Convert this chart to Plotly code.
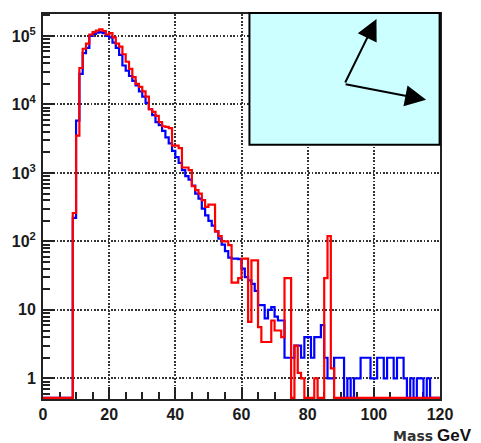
import numpy as np
import plotly.graph_objects as go

# 1 GeV bins from 0 to 120 GeV
bin_edges = list(range(0, 121))

# Blue histogram: counts per bin (bins 0..119)
blue_counts = [
    0, 0, 0, 0, 0, 0, 0, 0, 0, 220,
    5800, 28000, 56000, 67000, 100000, 107000, 112000, 114000, 110000, 100000,
    95000, 80000, 67000, 53000, 37000, 31000, 26000, 22000, 19000, 15500,
    13000, 10500, 8500, 7000, 5500, 5000, 4100, 3300, 2700, 2100,
    1700, 1400, 1100, 900, 800, 650, 500, 420, 300, 240,
    200, 170, 140, 110, 90, 72, 58, 56, 56, 55,
    40, 30, 27, 24, 19, 11.7, 11.7, 7.5, 10, 11,
    8, 7, 7, 2, 2, 2, 3, 3, 2, 4,
    4, 2, 4, 4, 6, 2, 1, 1, 2, 2,
    2, 0, 1, 0, 1, 1, 2, 2, 2, 1,
    1, 2, 2, 1, 2, 2, 1, 2, 2, 1,
    0, 1, 0, 1, 1, 0, 1, 0, 0, 0,
]

# Red histogram: counts per bin (bins 0..119)
red_counts = [
    0, 0, 0, 0, 0, 0, 0, 0, 0, 260,
    3500, 34000, 65000, 77000, 105000, 114000, 120000, 125000, 118000, 105000,
    110000, 95000, 77000, 70000, 54000, 42000, 33000, 25000, 20000, 18000,
    15500, 13000, 8500, 7800, 6800, 5500, 4800, 4700, 4500, 2500,
    2500, 2300, 1200, 1200, 1100, 640, 560, 500, 400, 320,
    345, 345, 140, 120, 100, 100, 88, 25, 25, 29,
    56, 56, 6.7, 53, 53, 5.6, 3.4, 3.4, 3.4, 7,
    5, 5, 4, 29, 29, 0, 3, 1.2, 1, 0,
    0, 0, 1, 0, 0, 29, 120, 1.4, 0, 0,
    0, 0, 0, 0, 0, 0, 0, 0, 0, 0,
    0, 0, 0, 0, 0, 0, 0, 0, 0, 0,
    0, 0, 0, 0, 0, 0, 0, 0, 0, 0,
]

y_tick_vals = [1, 10, 100, 1000, 10000, 100000]
y_tick_text = ["1", "10", "10<sup>2</sup>", "10<sup>3</sup>", "10<sup>4</sup>", "10<sup>5</sup>"]
x_tick_vals = [0, 20, 40, 60, 80, 100, 120]
x_tick_text = ["0", "20", "40", "60", "80", "100", "120"]

Y_MIN, Y_MAX = 0.5, 2.09e5
# empty bins are drawn along the bottom of the frame, as on a log plot
floor = Y_MIN * 10 ** 0.016


def step_y(counts):
    v = np.maximum(np.array(counts, dtype=float), floor)
    return np.append(v, v[-1])


fig = go.Figure()
fig.add_trace(go.Scatter(x=bin_edges, y=step_y(blue_counts), mode="lines",
                         line=dict(color="#0000ff", width=2.2, shape="hv"),
                         showlegend=False))
fig.add_trace(go.Scatter(x=bin_edges, y=step_y(red_counts), mode="lines",
                         line=dict(color="#ff0000", width=2.2, shape="hv"),
                         showlegend=False))

tick_font = dict(family="Liberation Sans", size=16, color="#1a1a1a", weight="bold")
grid = dict(showgrid=True, gridcolor="#333333", gridwidth=1.8, griddash="1.7px,1.7px")

minor_y = [m * 10 ** e for e in range(-1, 6) for m in range(2, 10)]
minor_y = [v for v in minor_y if Y_MIN <= v <= Y_MAX and v not in y_tick_vals]

fig.update_xaxes(range=[0, 120], tickmode="array", tickvals=x_tick_vals, ticktext=x_tick_text,
                 ticks="inside", ticklen=12, tickwidth=2, tickcolor="#222222",
                 showline=True, linewidth=2, linecolor="#222222", mirror=True,
                 zeroline=False, tickfont=tick_font, layer="below traces",
                 minor=dict(ticks="inside", ticklen=7, tickwidth=2, tickcolor="#222222",
                            dtick=5, tick0=0, showgrid=False),
                 **grid)
fig.update_yaxes(type="log", range=[np.log10(Y_MIN), np.log10(Y_MAX)],
                 tickmode="array", tickvals=y_tick_vals, ticktext=y_tick_text,
                 ticks="inside", ticklen=12, tickwidth=2, tickcolor="#222222",
                 showline=True, linewidth=2, linecolor="#222222", mirror=True,
                 zeroline=False, tickfont=tick_font, layer="below traces",
                 ticklabelstandoff=2,
                 minor=dict(ticks="inside", ticklen=7, tickwidth=2, tickcolor="#222222",
                            tickmode="array", tickvals=minor_y, showgrid=False),
                 **grid)

# inset box with two arrows
fig.add_shape(type="rect", xref="paper", yref="paper",
              x0=0.52, x1=0.999, y0=0.6606, y1=1.0026,
              fillcolor="#ccffff", line=dict(color="#000000", width=2), layer="above")

arrow = dict(xref="paper", yref="paper", axref="pixel", ayref="pixel", text="",
             showarrow=True, arrowhead=2, arrowsize=2.1, arrowwidth=2,
             arrowcolor="#000000", standoff=0)
fig.add_annotation(x=0.84, y=0.987, ax=-32, ay=65, **arrow)
fig.add_annotation(x=0.965, y=0.777, ax=-82, ay=-16, **arrow)

# axis title at the bottom right
fig.add_annotation(x=0.9875, y=-0.096, xref="paper", yref="paper", text="<b>Mass</b>",
                   showarrow=False, xanchor="right", yanchor="middle",
                   font=dict(family="DejaVu Sans", size=14, color="#333333"))
fig.add_annotation(x=1.084, y=-0.096, xref="paper", yref="paper", text="<b>GeV</b>",
                   showarrow=False, xanchor="right", yanchor="middle", borderpad=0,
                   font=dict(family="Liberation Sans", size=17, color="#111111"))

fig.update_layout(width=481, height=443, margin=dict(l=40, r=41, t=13, b=44),
                  paper_bgcolor="white", plot_bgcolor="white", showlegend=False)

fig.write_html("out.html")
